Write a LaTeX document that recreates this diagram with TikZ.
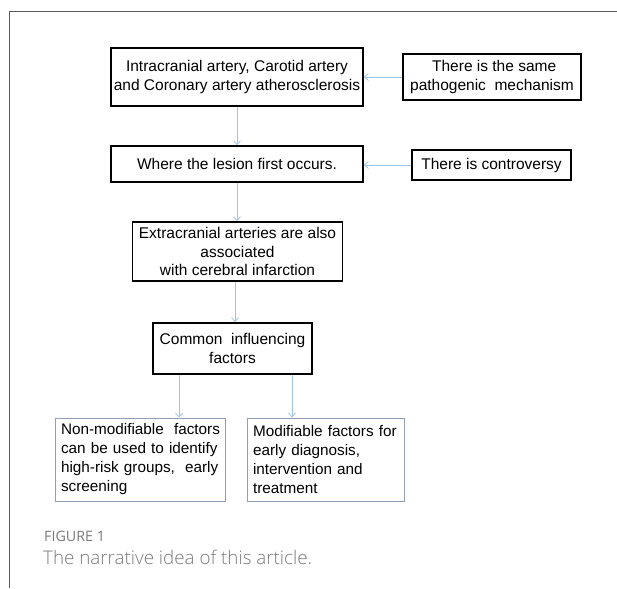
\documentclass[tikz,border=0pt]{standalone}
\usepackage{fontspec}
\setmainfont{Liberation Sans}
\newfontfamily\capfont{Open Sans}
\newfontfamily\caplight{Open Sans Light}
\usetikzlibrary{arrows.meta}
\definecolor{arrblue}{HTML}{9DC3E6}
\definecolor{boxgray}{HTML}{8EA0B8}
\definecolor{capgray}{HTML}{7A7A7A}
\tikzset{
  x=1pt, y=-1pt,
  mainbox/.style={draw=black, line width=1.6pt, rectangle, inner sep=1pt, align=center,
    font=\fontsize{15.5}{18.5}\selectfont},
  lowbox/.style={draw=boxgray, line width=0.8pt, rectangle, inner xsep=6pt, inner ysep=0pt, align=left,
    font=\fontsize{15.3}{19}\selectfont, text width=#1},
  arr/.style={draw=arrblue, line width=0.8pt, -{Straight Barb[length=4pt,width=7pt]}}
}
\begin{document}
\begin{tikzpicture}
\useasboundingbox (0,0) rectangle (617,588);
\draw[draw=black!65, line width=1pt] (9,588) -- (9,12) -- (617,12);

\node[mainbox, minimum width=252pt, minimum height=58pt] (b1) at (237,77)
  {Intracranial artery, Carotid artery\\and Coronary artery atherosclerosis};
\node[mainbox, minimum width=178pt, minimum height=46pt] (b2) at (492,77)
  {\ There is the same\\pathogenic\ \ mechanism};
\node[mainbox, minimum width=252pt, minimum height=36pt] (b3) at (237,164)
  {Where the lesion first occurs.};
\node[mainbox, minimum width=159pt, minimum height=30pt] (b4) at (491.5,165)
  {There is controversy};
\node[mainbox, minimum width=210pt, minimum height=59pt] (b5) at (237.5,251.5)
  {Extracranial arteries are also\\associated\\with cerebral infarction};
\node[mainbox, minimum width=159pt, minimum height=51pt] (b6) at (232.5,348.5)
  {Common\ \ influencing\\factors};
\node[lowbox=158pt, minimum width=170pt, minimum height=83pt] (b7) at (140,459.5)
  {\mbox{Non-modifiable\ \ factors}\\\mbox{can be used to identify}\\\mbox{high-risk groups,\ \ early}\\screening};
\node[lowbox=145pt, minimum width=157pt, minimum height=83pt] (b8) at (325.5,459.5)
  {\mbox{Modifiable factors for}\\\mbox{early diagnosis,}\\\mbox{intervention and}\\treatment};

\coordinate (pl) at (179,0);
\coordinate (pr) at (292,0);
\draw[arr] (b2.west) -- (b2.west -| b1.east);
\draw[arr] (b4.west) -- (b4.west -| b3.east);
\draw[arr] (b1.south) -- (b3.north);
\draw[arr] (b3.south) -- (b5.north -| b3.south);
\draw[arr] (b5.south -| b6.north) ++(2.5,0) coordinate (c5) -- (c5 |- b6.north);
\draw[arr] (b6.south -| pl) -- (b7.north -| pl);
\draw[arr] (b6.south -| pr) -- (b8.north -| pr);

\node[anchor=base west, inner sep=0pt, text=capgray, font=\capfont\fontsize{14.3}{16}\selectfont] (fig) at (44,541) {FIGURE 1};
\node[anchor=base west, inner sep=0pt, text=capgray, font=\caplight\fontsize{18.8}{22}\selectfont] (cap) at (43,564) {The narrative idea of this article.};
\end{tikzpicture}
\end{document}
